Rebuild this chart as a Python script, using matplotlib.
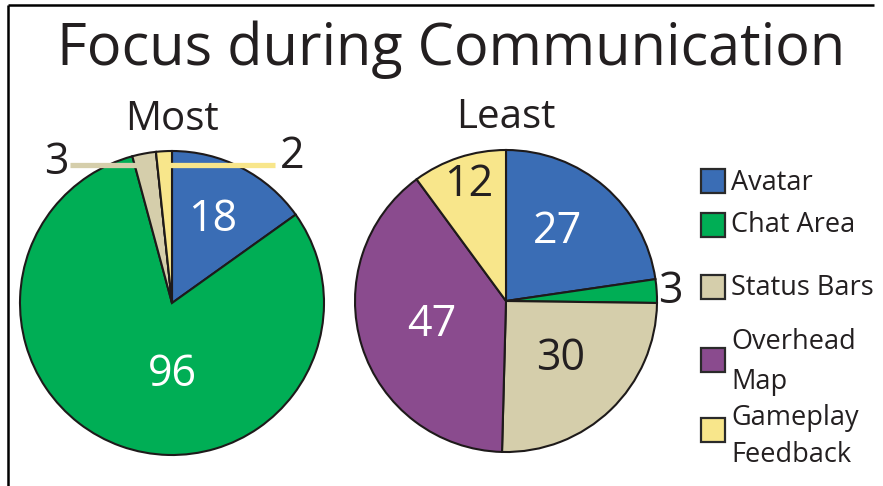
import matplotlib
matplotlib.use("Agg")
import matplotlib.pyplot as plt
from matplotlib.patches import Rectangle

plt.rcParams['font.family'] = ['Open Sans', 'DejaVu Sans']

# Category order (clockwise from 12 o'clock)
categories = ["Avatar", "Chat Area", "Status Bars", "Overhead Map", "Gameplay Feedback"]
legend_lines = [["Avatar"], ["Chat Area"], ["Status Bars"], ["Overhead", "Map"], ["Gameplay", "Feedback"]]
colors = ["#3a6db5", "#00ae55", "#d5ceab", "#8a4b8e", "#f8e68b"]

most_values = [18, 96, 3, 0, 2]
least_values = [27, 3, 30, 47, 12]

INK = "#231f20"
W, H = 883, 486


def fig_box(cx, cy, r):
    """Axes rectangle (figure fraction) for a pie centred at pixel (cx, cy)."""
    return [(cx - r) / W, (H - cy - r) / H, 2 * r / W, 2 * r / H]


def draw_pie(ax, values):
    ax.pie(values, colors=colors, startangle=90, counterclock=False, radius=1,
           wedgeprops=dict(edgecolor="#1e1a1a", linewidth=1.5))
    ax.set_xlim(-1, 1)
    ax.set_ylim(-1, 1)
    ax.set_aspect("equal")
    ax.axis("off")


fig = plt.figure(figsize=(W / 100, H / 100), dpi=100)
fig.patch.set_facecolor("white")

# background axes in pixel coordinates for title, legend and frame
bg = fig.add_axes([0, 0, 1, 1])
bg.set_xlim(0, W)
bg.set_ylim(H, 0)
bg.axis("off")

bg.plot([8, 874], [5, 5], color="black", lw=1.8, solid_capstyle="butt")
bg.plot([8, 8], [5, H], color="black", lw=1.8, solid_capstyle="butt")

bg.text(451, 50, "Focus during Communication", ha="center", va="center",
        fontsize=41.5, color=INK)
bg.text(172, 120, "Most", ha="center", va="center", fontsize=29, color=INK)
bg.text(506, 118, "Least", ha="center", va="center", fontsize=29, color=INK)

# legend
square_y = [181, 225, 287, 360, 430]
text_y = [[183], [225], [288], [342, 382], [418, 455]]
for col, sy, lines, tys in zip(colors, square_y, legend_lines, text_y):
    bg.add_patch(Rectangle((701, sy - 12), 24, 24, facecolor=col,
                           edgecolor="#2a2a2a", lw=1.6))
    for line, ty in zip(lines, tys):
        bg.text(731, ty, line, ha="left", va="center", fontsize=19.5, color=INK)

# Most pie
ax1 = fig.add_axes(fig_box(172, 303, 152))
draw_pie(ax1, most_values)
ax1.plot([-0.67, -0.18], [0.91, 0.91], color=colors[2], lw=3.8, solid_capstyle="butt")
ax1.plot([-0.06, 0.68], [0.91, 0.91], color=colors[4], lw=3.8, solid_capstyle="butt")
ax1.text(0.27, 0.55, str(most_values[0]), ha="center", va="center", fontsize=31, color="white")
ax1.text(0.0, -0.47, str(most_values[1]), ha="center", va="center", fontsize=31, color="white")
ax1.text(-0.76, 0.92, str(most_values[2]), ha="center", va="center", fontsize=31, color=INK, clip_on=False)
ax1.text(0.79, 0.96, str(most_values[4]), ha="center", va="center", fontsize=31, color=INK, clip_on=False)

# Least pie
ax2 = fig.add_axes(fig_box(506, 301, 151))
draw_pie(ax2, least_values)
ax2.text(0.34, 0.46, str(least_values[0]), ha="center", va="center", fontsize=31, color="white")
ax2.text(1.09, 0.06, str(least_values[1]), ha="center", va="center", fontsize=31, color=INK, clip_on=False)
ax2.text(0.36, -0.38, str(least_values[2]), ha="center", va="center", fontsize=31, color=INK)
ax2.text(-0.49, -0.16, str(least_values[3]), ha="center", va="center", fontsize=31, color="white")
ax2.text(-0.25, 0.77, str(least_values[4]), ha="center", va="center", fontsize=31, color=INK)

fig.savefig("out.png", dpi=100, facecolor="white")
